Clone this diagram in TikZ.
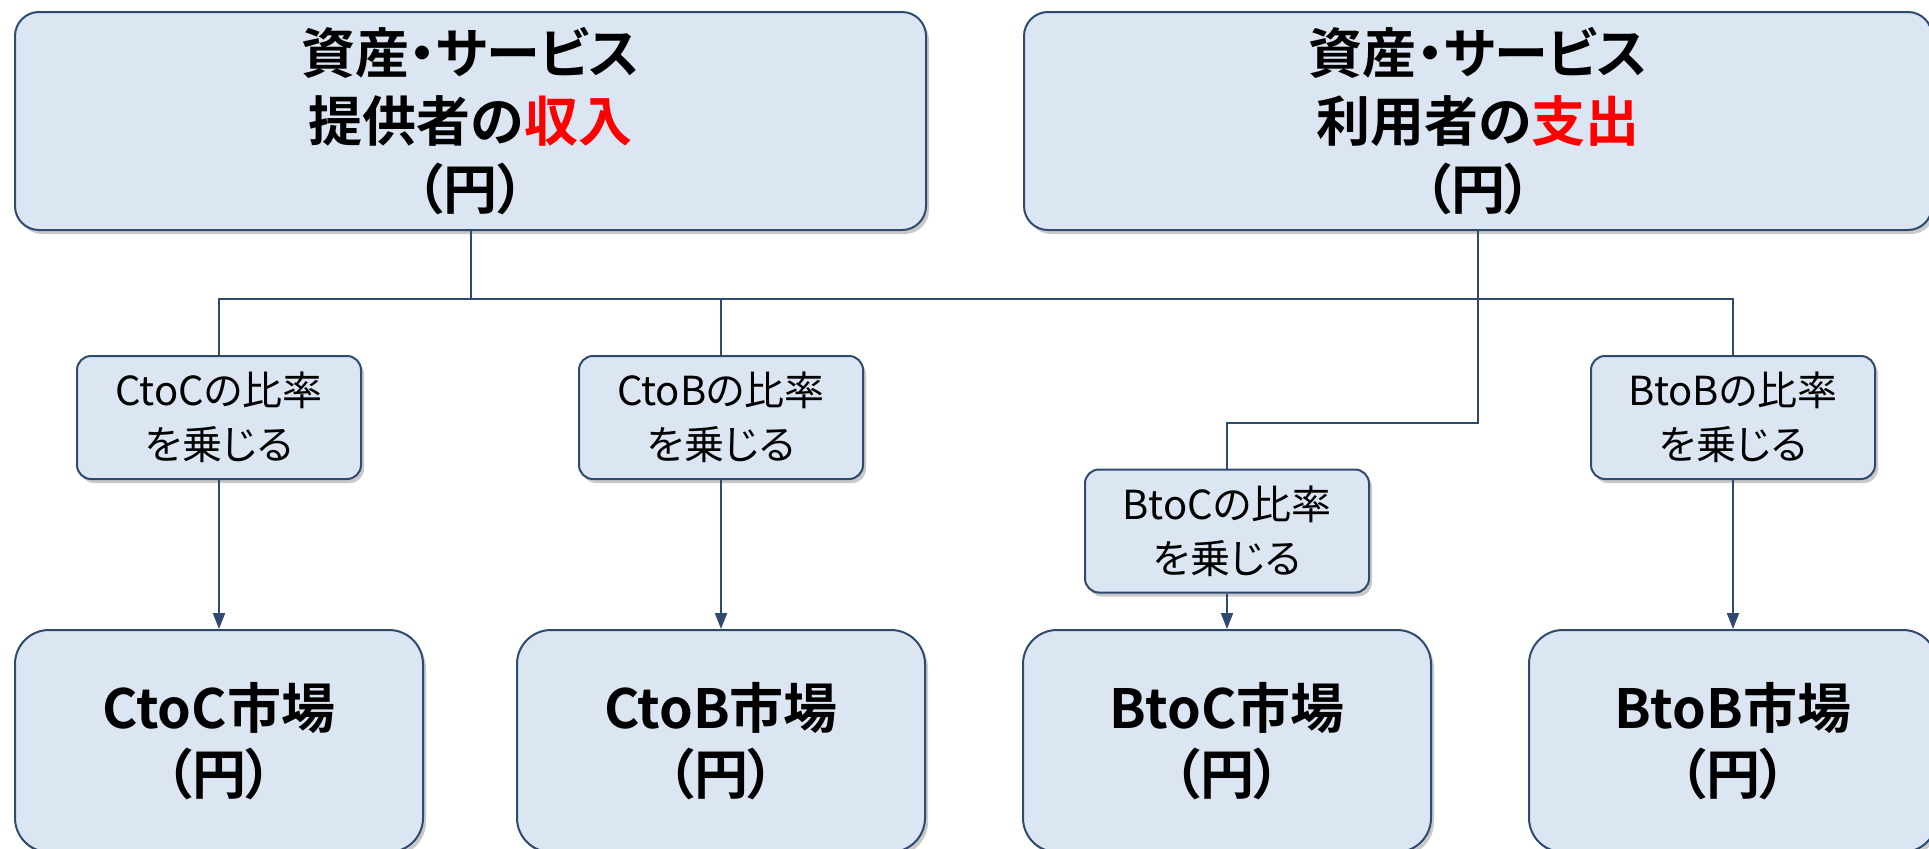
\documentclass[tikz,border=0pt]{standalone}
\usepackage{fontspec}
\setmainfont{Noto Sans CJK JP}[RawFeature=+palt, BoldFont={* Bold}]
\usetikzlibrary{arrows.meta,shadows}
\definecolor{lineblue}{HTML}{2E4A6E}
\definecolor{boxfill}{HTML}{DCE6F2}
\definecolor{hired}{HTML}{FF0000}
\begin{document}
\begin{tikzpicture}[x=0.5pt,y=-0.5pt,
  box/.style={draw=lineblue, line width=1pt, fill=boxfill, rounded corners=12pt, inner sep=0pt, align=center,
    drop shadow={shadow xshift=1.5pt,shadow yshift=-2pt,opacity=0.3,fill=black!70}},
  topbox/.style={box, minimum width=455.5pt, minimum height=109pt, font=\bfseries\fontsize{27}{34}\selectfont},
  ratiobox/.style={box, rounded corners=7pt, minimum width=142pt, minimum height=61.5pt, font=\fontsize{20}{27}\selectfont},
  mktbox/.style={box, rounded corners=17pt, minimum width=204pt, minimum height=111pt, font=\bfseries\fontsize{27}{33}\selectfont},
  conn/.style={draw=lineblue, line width=1pt},
  arr/.style={conn, -{Triangle[width=6pt,length=8pt]}}]
\useasboundingbox (0,0) rectangle (1929,848);
\coordinate (bus) at (0,299);
\coordinate (elbow) at (0,423);
\node[topbox] (top1) at (470.5,121) {資産・サービス\\提供者の\textcolor{hired}{収入}\\（円）};
\node[topbox, minimum width=454pt] (top2) at (1478,121) {資産・サービス\\利用者の\textcolor{hired}{支出}\\（円）};
\node[ratiobox] (r1) at (219,417.5) {CtoCの比率\\を乗じる};
\node[ratiobox] (r2) at (721,417.5) {CtoBの比率\\を乗じる};
\node[ratiobox] (r3) at (1227,531) {BtoCの比率\\を乗じる};
\node[ratiobox] (r4) at (1733,417.5) {BtoBの比率\\を乗じる};
\node[mktbox] (m1) at (219,741) {CtoC市場\\（円）};
\node[mktbox] (m2) at (721,741) {CtoB市場\\（円）};
\node[mktbox] (m3) at (1227,741) {BtoC市場\\（円）};
\node[mktbox] (m4) at (1733,741) {BtoB市場\\（円）};
\draw[conn] (top1.south) -- (top1.south |- bus);
\draw[conn] (r1.north) -- (r1.north |- bus) -- (r4.north |- bus) -- (r4.north);
\draw[conn] (r2.north) -- (r2.north |- bus);
\draw[conn] (top2.south) -- (top2.south |- elbow) -| (r3.north);
\draw[arr] (r1.south) -- (m1.north);
\draw[arr] (r2.south) -- (m2.north);
\draw[arr] (r3.south) -- (m3.north);
\draw[arr] (r4.south) -- (m4.north);
\end{tikzpicture}
\end{document}
